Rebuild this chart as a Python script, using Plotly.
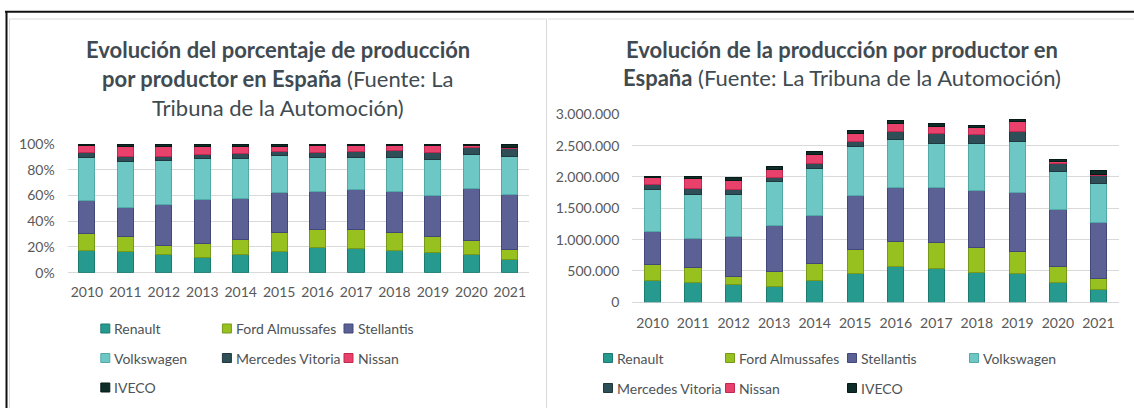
import numpy as np
import plotly.graph_objects as go

# ---------------- data ----------------
years = ["2010", "2011", "2012", "2013", "2014", "2015",
         "2016", "2017", "2018", "2019", "2020", "2021"]
producers = ["Renault", "Ford Almussafes", "Stellantis", "Volkswagen",
             "Mercedes Vitoria", "Nissan", "IVECO"]
renault = [346000, 324000, 277000, 255000, 340000, 457000, 569000, 532000, 479000, 457000, 324000, 207000]
ford = [260000, 235000, 138000, 229000, 282000, 389000, 394000, 420000, 393000, 357000, 245000, 165000]
stellantis = [522000, 452000, 633000, 745000, 756000, 856000, 867000, 883000, 915000, 936000, 915000, 905000]
volkswagen = [675000, 712000, 675000, 691000, 755000, 782000, 760000, 702000, 750000, 824000, 606000, 622000]
mercedes = [75000, 86000, 75000, 69000, 85000, 90000, 128000, 154000, 144000, 144000, 123000, 117000]
nissan = [106000, 159000, 149000, 133000, 144000, 117000, 138000, 112000, 101000, 160000, 26000, 27000]
iveco = [27000, 32000, 37000, 43000, 42000, 48000, 43000, 43000, 42000, 37000, 32000, 53000]
series = [renault, ford, stellantis, volkswagen, mercedes, nissan, iveco]

pct_ticks = [0, 20, 40, 60, 80, 100]
pct_labels = ["0%", "20%", "40%", "60%", "80%", "100%"]
abs_ticks = [0, 500000, 1000000, 1500000, 2000000, 2500000, 3000000]

# ---------------- styles ----------------
colors = ["#279a8f", "#96c11f", "#5b6195", "#6dc8c5", "#2e4f57", "#e8426c", "#0f2d28"]
edges = ["#1d7a70", "#77991a", "#434878", "#52a9a6", "#1f383e", "#c02a52", "#061a17"]

W, H = 1134, 408
FONT = "Lato"
TICK_COLOR = "#595959"
TITLE_COLOR = "#3f4b51"


def px(x):
    return x / W


def py(y):
    return 1 - y / H


values = np.array(series, dtype=float)
shares = values / values.sum(axis=0) * 100.0

fig = go.Figure()
for i, name in enumerate(producers):
    fig.add_trace(go.Bar(
        x=years, y=shares[i], name=name, xaxis="x", yaxis="y",
        width=0.42, showlegend=False,
        marker=dict(color=colors[i], line=dict(color=edges[i], width=1)),
        hovertemplate="%{x}: %{y:.1f}%<extra>" + name + "</extra>",
    ))
for i, name in enumerate(producers):
    fig.add_trace(go.Bar(
        x=years, y=series[i], name=name, xaxis="x2", yaxis="y2",
        width=0.4, showlegend=False,
        marker=dict(color=colors[i], line=dict(color=edges[i], width=1)),
    ))

axis_font = dict(family=FONT, size=14, color=TICK_COLOR)
fig.update_layout(
    width=W, height=H, autosize=False,
    margin=dict(l=0, r=0, t=0, b=0, pad=0, autoexpand=False),
    paper_bgcolor="white", plot_bgcolor="white",
    barmode="stack",
    separators=",.",
    font=dict(family=FONT, color=TICK_COLOR),
    xaxis=dict(domain=[px(67.7), px(529)], anchor="y", type="category",
               showgrid=False, showline=False, ticks="", tickfont=axis_font,
               ticklabelstandoff=9, fixedrange=True, automargin=False),
    yaxis=dict(domain=[py(272.7), py(144)], anchor="x", range=[0, 100],
               tickvals=pct_ticks, ticktext=pct_labels, showgrid=True,
               gridcolor="#d9d9d9", gridwidth=1, zeroline=True,
               zerolinecolor="#d9d9d9", zerolinewidth=1, showline=False,
               ticks="", tickfont=axis_font, ticklabelstandoff=12,
               fixedrange=True, automargin=False),
    xaxis2=dict(domain=[px(632.3), px(1118.7)], anchor="y2", type="category",
                showgrid=False, showline=False, ticks="", tickfont=axis_font,
                ticklabelstandoff=11, fixedrange=True, automargin=False),
    yaxis2=dict(domain=[py(302.3), py(114.3)], anchor="x2", range=[0, 3000000],
                tickvals=abs_ticks, tickformat=",d", showgrid=True,
                gridcolor="#d9d9d9", gridwidth=1, zeroline=True,
                zerolinecolor="#d9d9d9", zerolinewidth=1, showline=False,
                ticks="", tickfont=axis_font, ticklabelstandoff=12,
                fixedrange=True, automargin=False),
)

# ---------------- frame ----------------
shapes = []
def line(x0, y0, x1, y1, color, width):
    shapes.append(dict(type="line", xref="paper", yref="paper",
                       x0=px(x0), y0=py(y0), x1=px(x1), y1=py(y1),
                       line=dict(color=color, width=width)))

line(5, 11.8, W, 11.8, "#111111", 2)
line(6.5, 11, 6.5, H, "#111111", 2)
line(9.5, 19, 546.5, 19, "#d9d9d9", 1)
line(9.5, 19, 9.5, H, "#d9d9d9", 1)
line(546.5, 19, 546.5, H, "#d9d9d9", 1)
line(548, 19, W, 19, "#d9d9d9", 1)

# ---------------- titles ----------------
annotations = []
def title_line(x, y, text):
    annotations.append(dict(xref="paper", yref="paper", x=px(x), y=py(y),
                            xanchor="center", yanchor="middle", showarrow=False,
                            text=text, font=dict(family=FONT, size=22, color=TITLE_COLOR)))

title_line(277.5, 49, "<b>Evolución del porcentaje de producción</b>")
title_line(277.5, 78.5, "<b>por productor en España</b> (Fuente: La")
title_line(277.5, 107.5, "Tribuna de la Automoción)")
title_line(842, 49, "<b>Evolución de la producción por productor en</b>")
title_line(842, 77.5, "<b>España</b> (Fuente: La Tribuna de la Automoción)")

# ---------------- legends ----------------
def legend(x0, dx, y0, dy, ncol):
    for k, name in enumerate(producers):
        cx = x0 + (k % ncol) * dx
        cy = y0 + (k // ncol) * dy
        shapes.append(dict(type="rect", xref="paper", yref="paper",
                           x0=px(cx - 4.5), x1=px(cx + 4.5),
                           y0=py(cy + 4.5), y1=py(cy - 4.5),
                           fillcolor=colors[k], line=dict(color=edges[k], width=1)))
        annotations.append(dict(xref="paper", yref="paper", x=px(cx + 7), y=py(cy),
                                xanchor="left", yanchor="middle", showarrow=False,
                                text=name, font=dict(family=FONT, size=14, color="#4d5356")))

legend(105.3, 121.6, 328.5, 29.5, 3)
legend(608, 122, 358, 30, 4)

fig.update_layout(shapes=shapes, annotations=annotations)
fig.write_html(
    "out.html",
    config={"displayModeBar": False},
    post_script="document.body.style.margin='0';document.body.style.overflow='hidden';",
)
